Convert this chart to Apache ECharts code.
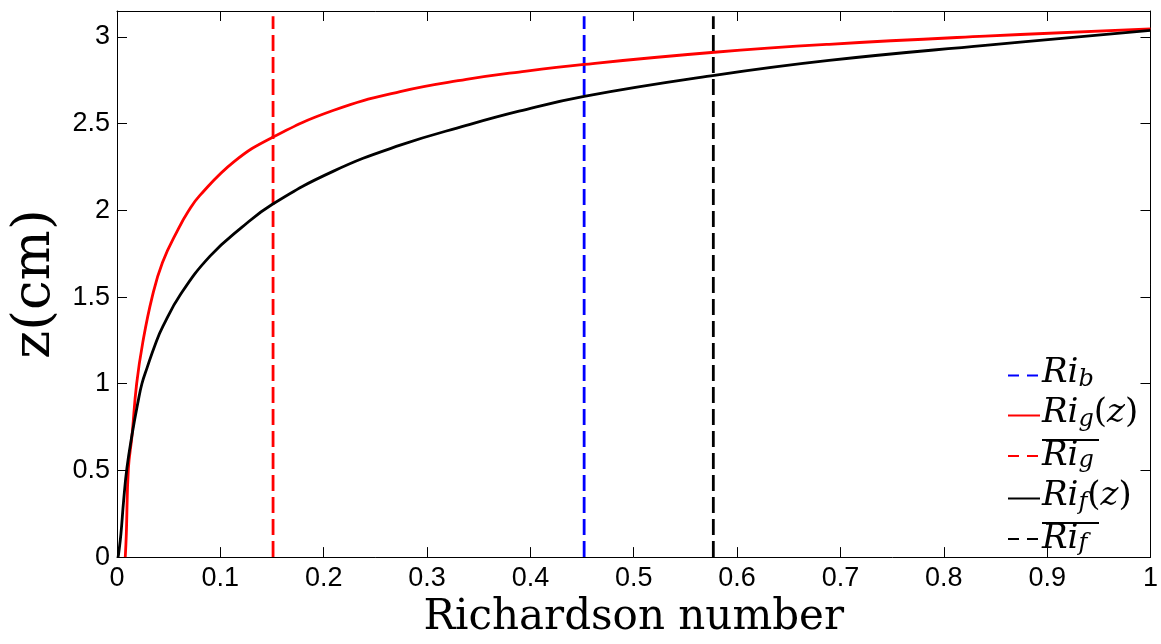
<!DOCTYPE html>
<html>
<head>
<meta charset="utf-8">
<script src="https://cdn.jsdelivr.net/npm/echarts@6/dist/echarts.min.js"></script>
<style>html,body{margin:0;padding:0;background:#fff}#c{width:1161px;height:644px}</style>
</head>
<body>
<div id="c"></div>
<script>
// Ri_g(z) curve (red)
const riG_x = [0.008, 0.009, 0.011, 0.0145, 0.019, 0.025, 0.034, 0.044, 0.0595, 0.069, 0.080, 0.113, 0.150, 0.209, 0.274, 0.338, 0.389, 0.452, 0.578, 0.689, 0.84, 1.0];
const riG_z = [0, 0.13, 0.51, 0.70, 1.0, 1.24, 1.5, 1.70, 1.895, 1.995, 2.085, 2.28, 2.42, 2.576, 2.685, 2.755, 2.798, 2.842, 2.912, 2.958, 3.005, 3.047];
// Ri_f(z) curve (black)
const riF_x = [0.001, 0.0016, 0.0038, 0.0064, 0.0096, 0.0145, 0.0203, 0.0241, 0.029, 0.037, 0.0444, 0.062, 0.090, 0.121, 0.150, 0.209, 0.274, 0.338, 0.389, 0.452, 0.578, 0.689, 0.84, 1.0];
const riF_z = [0, 0.02, 0.134, 0.324, 0.514, 0.704, 0.894, 1.0, 1.09, 1.227, 1.331, 1.52, 1.736, 1.903, 2.034, 2.225, 2.376, 2.49, 2.572, 2.658, 2.779, 2.865, 2.952, 3.038];
// vertical reference values
const riB = 0.452;
const meanRiG = 0.151;
const meanRiF = 0.577;
const vlineZ = [0, 3.12];
// axes
const xTicks = [0, 0.1, 0.2, 0.3, 0.4, 0.5, 0.6, 0.7, 0.8, 0.9, 1];
const yTicks = [0, 0.5, 1, 1.5, 2, 2.5, 3];
const xMin = 0, xMax = 1, yMin = 0, yMax = 3.15;

const zip = (xs, zs) => xs.map((x, i) => [x, zs[i]]);
const vline = (x) => vlineZ.map(z => [x, z]);

const labelRich = {
  'Rib': '{it|Ri}{sub|b}',
  'Rig(z)': '{it|Ri}{sub|g}{rm|(}{it|z}{rm|)}',
  'meanRig': '{ol| }\n{itm|Ri}{subm|g}',
  'Rif(z)': '{it|Ri}{sub|f}{rm|(}{it|z}{rm|)}',
  'meanRif': '{ol| }\n{itm|Ri}{subm|f}'
};

const chart = echarts.init(document.getElementById('c'), null, {renderer: 'canvas'});
const lbl = {fontFamily: 'Liberation Sans, Arial, sans-serif', fontSize: 27, color: '#000'};
const axisLineStyle = {show: true, onZero: false, lineStyle: {color: '#000', width: 1}};
const tickStyle = {show: true, inside: true, length: 10, lineStyle: {color: '#000', width: 1}};
const serif = 'DejaVu Serif, serif';

chart.setOption({
  animation: false,
  backgroundColor: '#fff',
  grid: {left: 117, right: 8, top: 11, bottom: 80, containLabel: false},
  xAxis: [{
    type: 'value', min: xMin, max: xMax, interval: 0.1, position: 'bottom',
    axisLine: axisLineStyle, axisTick: tickStyle, splitLine: {show: false},
    axisLabel: Object.assign({margin: 8, formatter: v => {
      const t = xTicks.find(k => Math.abs(k - v) < 1e-9); return t === undefined ? '' : String(t);
    }}, lbl),
    name: 'Richardson number', nameLocation: 'middle', nameGap: 33,
    nameTextStyle: {fontFamily: serif, fontSize: 42, color: '#000'}
  }, {
    type: 'value', min: xMin, max: xMax, interval: 0.1, position: 'top',
    axisLine: axisLineStyle, axisTick: tickStyle, axisLabel: {show: false}, splitLine: {show: false}
  }],
  yAxis: [{
    type: 'value', min: yMin, max: yMax, interval: 0.5, position: 'left',
    axisLine: axisLineStyle, axisTick: tickStyle, splitLine: {show: false},
    axisLabel: Object.assign({margin: 7, showMaxLabel: false, formatter: v => {
      const t = yTicks.find(k => Math.abs(k - v) < 1e-9); return t === undefined ? '' : String(t);
    }}, lbl),
    name: 'z(cm)', nameLocation: 'middle', nameGap: 52,
    nameTextStyle: {fontFamily: serif, fontSize: 53, color: '#000'}
  }, {
    type: 'value', min: yMin, max: yMax, interval: 0.5, position: 'right',
    axisLine: axisLineStyle, axisTick: tickStyle, axisLabel: {show: false}, splitLine: {show: false}
  }],
  legend: {
    orient: 'vertical', left: 1002, top: 351, itemGap: 1,
    itemWidth: 32, itemHeight: 14,
    itemStyle: {opacity: 0},
    data: [
      {name: 'Rib', lineStyle: {type: [11, 8]}},
      {name: 'Rig(z)'},
      {name: 'meanRig', lineStyle: {type: [11, 8]}},
      {name: 'Rif(z)'},
      {name: 'meanRif', lineStyle: {type: [11, 8]}}
    ],
    formatter: n => labelRich[n],
    textStyle: {
      padding: [0, 0, 0, -3],
      rich: {
        it: {fontFamily: serif, fontStyle: 'italic', fontSize: 34, lineHeight: 32, padding: [0, 0, 5, 0], color: '#000'},
        sub: {fontFamily: serif, fontStyle: 'italic', fontSize: 24, lineHeight: 22, verticalAlign: 'bottom', color: '#000'},
        rm: {fontFamily: serif, fontSize: 34, lineHeight: 32, padding: [0, 0, 5, 0], color: '#000'},
        ol: {width: 57, height: 2, lineHeight: 2, fontSize: 2, backgroundColor: '#000'},
        itm: {fontFamily: serif, fontStyle: 'italic', fontSize: 34, lineHeight: 32, padding: [3, 0, 5, 0], color: '#000'},
        subm: {fontFamily: serif, fontStyle: 'italic', fontSize: 24, lineHeight: 22, verticalAlign: 'bottom', color: '#000'}
      }
    }
  },
  series: [
    {name: 'Rib', type: 'line', data: vline(riB), symbol: 'none', z: 3,
      lineStyle: {color: '#0000ff', width: 2.8, type: [16, 6]}, itemStyle: {color: '#0000ff'}},
    {name: 'Rig(z)', type: 'line', data: zip(riG_x, riG_z), symbol: 'none', smooth: 0.45,
      lineStyle: {color: '#ff0000', width: 2.8}, itemStyle: {color: '#ff0000'}},
    {name: 'meanRig', type: 'line', data: vline(meanRiG), symbol: 'none', z: 3,
      lineStyle: {color: '#ff0000', width: 2.8, type: [16, 6]}, itemStyle: {color: '#ff0000'}},
    {name: 'Rif(z)', type: 'line', data: zip(riF_x, riF_z), symbol: 'none', smooth: 0.45,
      lineStyle: {color: '#000000', width: 2.8}, itemStyle: {color: '#000000'}},
    {name: 'meanRif', type: 'line', data: vline(meanRiF), symbol: 'none', z: 3,
      lineStyle: {color: '#000000', width: 2.8, type: [16, 6]}, itemStyle: {color: '#000000'}}
  ]
});
</script>
</body>
</html>
